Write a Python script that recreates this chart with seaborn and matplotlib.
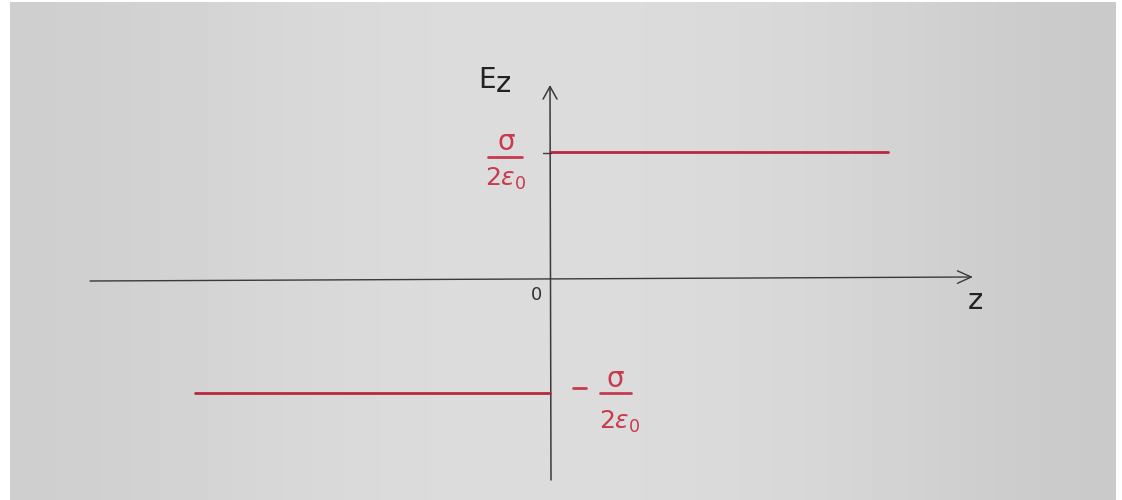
import numpy as np
import pandas as pd
import matplotlib
matplotlib.use('Agg')
import matplotlib.pyplot as plt
import seaborn as sns

sns.set_style('white')
plt.rcParams['font.family'] = ['DejaVu Sans']
plt.rcParams['mathtext.fontset'] = 'dejavusans'

# field of a charged sheet, hand sketch values (z in sketch units)
z_left = [-3.55, 0.0]
field_left = [-0.88, -0.88]
z_right = [0.0, 3.38]
field_right = [1.0, 1.0]

df = pd.DataFrame({
    'z': z_left + z_right,
    'E': field_left + field_right,
    'side': ['below'] * 2 + ['above'] * 2,
})

W, H = 1122, 500
fig = plt.figure(figsize=(W / 100, H / 100), dpi=100)
fig.patch.set_facecolor('white')

def fx(x, y):
    # pixel position -> figure fraction
    return x / W, 1 - y / H

ax = fig.add_axes([10 / W, 0, (1116 - 10) / W, 498 / H])
ax.set_xlim((10 - 550) / 100, (1116 - 550) / 100)
ax.set_ylim((280 - 500) / 128, (280 - 2) / 128)
ax.axis('off')

# paper background, slightly darker towards the edges
grad = np.array([[0.81, 0.84, 0.86, 0.865, 0.855, 0.835, 0.79]])
ax.imshow(grad, cmap='gray', vmin=0, vmax=1, aspect='auto',
          extent=[*ax.get_xlim(), *ax.get_ylim()], zorder=0, interpolation='bicubic')

pen = '#3a3a3c'
red = '#b8283f'
red_txt = '#c83a4e'

# axes drawn as arrows
ax.annotate('', xy=fx(973, 277), xytext=fx(90, 281), xycoords='figure fraction',
            arrowprops=dict(arrowstyle='->,head_length=1.0,head_width=0.45', color=pen, lw=1.0,
                            shrinkA=0, shrinkB=0))
ax.annotate('', xy=fx(550, 85), xytext=fx(551, 480), xycoords='figure fraction',
            arrowprops=dict(arrowstyle='->,head_length=0.9,head_width=0.5', color=pen, lw=1.1,
                            shrinkA=0, shrinkB=0))
fig.add_artist(plt.Line2D([543 / W, 551 / W], [1 - 153 / H, 1 - 153 / H],
                          color=pen, lw=1.0, transform=fig.transFigure))

sns.lineplot(data=df, x='z', y='E', hue='side', units='side', estimator=None,
             palette={'below': red, 'above': red}, lw=2.0, legend=False, ax=ax, zorder=3)

# labels
fig.text(*fx(478, 88), 'E', fontsize=20, color='#222222', va='baseline')
fig.text(*fx(496, 92), 'z', fontsize=21, color='#222222', va='baseline')
fig.text(*fx(968, 309), 'z', fontsize=21, color='#222222', va='baseline')
fig.text(*fx(531, 300), '0', fontsize=13, color='#333333', va='baseline')

fig.text(*fx(506, 150), 'σ', fontsize=20, color=red_txt, ha='center', va='baseline')
fig.add_artist(plt.Line2D([488 / W, 522 / W], [1 - 157 / H, 1 - 157 / H],
                          color=red_txt, lw=2.0, transform=fig.transFigure))
fig.text(*fx(506, 186), r'$2\varepsilon_{0}$', fontsize=18, color=red_txt, ha='center', va='baseline')

fig.add_artist(plt.Line2D([573 / W, 586 / W], [1 - 388 / H, 1 - 388 / H],
                          color=red_txt, lw=2.0, transform=fig.transFigure))
fig.text(*fx(615, 387), 'σ', fontsize=20, color=red_txt, ha='center', va='baseline')
fig.add_artist(plt.Line2D([600 / W, 631 / W], [1 - 393 / H, 1 - 393 / H],
                          color=red_txt, lw=2.0, transform=fig.transFigure))
fig.text(*fx(620, 429), r'$2\varepsilon_{0}$', fontsize=18, color=red_txt, ha='center', va='baseline')

fig.savefig('out.png', dpi=100, facecolor=fig.get_facecolor())
